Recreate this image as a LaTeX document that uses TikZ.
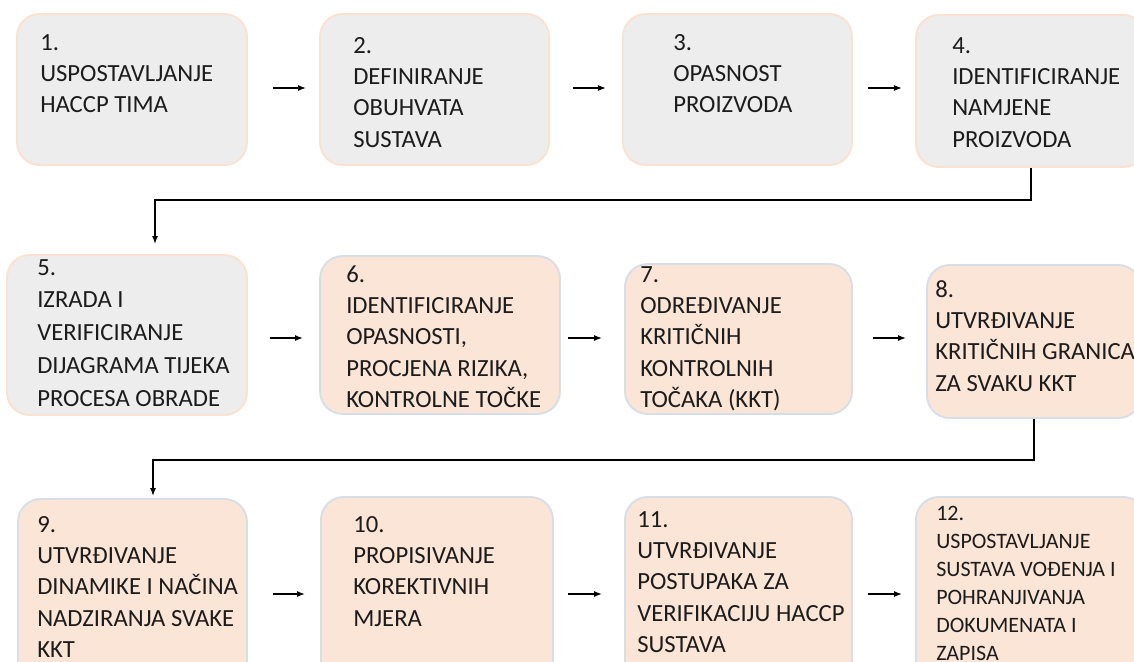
\documentclass[tikz,border=0pt]{standalone}
\usepackage{fontspec}
\setmainfont{Carlito}
\usetikzlibrary{arrows.meta}
\definecolor{graybox}{HTML}{EDEDED}
\definecolor{grayedge}{HTML}{FBE1CF}
\definecolor{peachbox}{HTML}{FBE5D6}
\definecolor{peachedge}{HTML}{D8DEE8}
\definecolor{txt}{HTML}{1C1C1C}
\newcommand\btext[2][23.6]{\parbox[t]{260pt}{\raggedright\fontsize{18.5}{#1}\selectfont #2}}
\begin{document}
\begin{tikzpicture}[x=0.75pt,y=-0.75pt,
  gbox/.style={draw=grayedge, fill=graybox, line width=1.4pt, rounded corners=17pt, inner sep=0pt},
  pbox/.style={draw=peachedge, fill=peachbox, line width=1.4pt, rounded corners=17pt, inner sep=0pt},
  lbl/.style={anchor=base west, inner sep=0pt, text=txt},
  arr/.style={line width=1.1pt, -{Latex[length=6pt,width=4.5pt]}},
  elbow/.style={line width=1.1pt, -{Latex[length=6pt,width=4.5pt]}}]
\clip (0,0) rectangle (1134,661);
\fill[white] (0,0) rectangle (1134,661);
% boxes
\node[gbox, minimum width=172.5pt, minimum height=113.25pt] (b1) at (132,89.5) {};
\node[gbox, minimum width=171.75pt, minimum height=113.25pt] (b2) at (434.5,89.5) {};
\node[gbox, minimum width=171.75pt, minimum height=113.25pt] (b3) at (737.5,89.5) {};
\node[gbox, minimum width=172.5pt, minimum height=114pt] (b4) at (1031,91) {};
\node[gbox, minimum width=180pt, minimum height=120pt] (b5) at (127,335) {};
\node[pbox, minimum width=180pt, minimum height=118.5pt] (b6) at (440,335) {};
\node[pbox, minimum width=170.25pt, minimum height=112.5pt] (b7) at (738.5,339) {};
\node[pbox, minimum width=160.5pt, minimum height=114.75pt] (b8) at (1034,341.5) {};
\node[pbox, minimum width=171.75pt, minimum height=150.75pt] (b9) at (132.5,599.5) {};
\node[pbox, minimum width=174pt, minimum height=152.25pt] (b10) at (437,598.5) {};
\node[pbox, minimum width=170.25pt, minimum height=152.25pt] (b11) at (738.5,598.5) {};
\node[pbox, minimum width=172.5pt, minimum height=152.25pt] (b12) at (1031,598.5) {};
% texts
\node[lbl] (t1) at (40,50) {\btext{1.\\USPOSTAVLJANJE\\HACCP TIMA}};
\node[lbl] (t2) at (353,53) {\btext{2.\\DEFINIRANJE\\OBUHVATA\\SUSTAVA}};
\node[lbl] (t3) at (673,50) {\btext{3.\\OPASNOST\\PROIZVODA}};
\node[lbl] (t4) at (952,53) {\btext{4.\\IDENTIFICIRANJE\\NAMJENE\\PROIZVODA}};
\node[lbl] (t5) at (37,275) {\btext[24.6]{5.\\IZRADA I\\VERIFICIRANJE\\DIJAGRAMA TIJEKA\\PROCESA OBRADE}};
\node[lbl] (t6) at (346,282) {\btext{6.\\IDENTIFICIRANJE\\OPASNOSTI,\\PROCJENA RIZIKA,\\KONTROLNE TOČKE}};
\node[lbl] (t7) at (640,282) {\btext{7.\\ODREĐIVANJE\\KRITIČNIH\\KONTROLNIH\\TOČAKA (KKT)}};
\node[lbl] (t8) at (935,297) {\btext{8.\\UTVRĐIVANJE\\KRITIČNIH GRANICA\\ZA SVAKU KKT}};
\node[lbl] (t9) at (37,532) {\btext{9.\\UTVRĐIVANJE\\DINAMIKE I NAČINA\\NADZIRANJA SVAKE\\KKT}};
\node[lbl] (t10) at (353,532) {\btext{10.\\PROPISIVANJE\\KOREKTIVNIH\\MJERA}};
\node[lbl] (t11) at (637,527) {\btext{11.\\UTVRĐIVANJE\\POSTUPAKA ZA\\VERIFIKACIJU HACCP\\SUSTAVA}};
\node[lbl] (t12) at (936,520) {\parbox[t]{260pt}{\raggedright\fontsize{16.5}{21}\selectfont 12.\\USPOSTAVLJANJE\\SUSTAVA VOĐENJA I\\POHRANJIVANJA\\DOKUMENATA I\\ZAPISA}};
% row reference coordinates
\coordinate (r1) at (0,88);
\coordinate (r2) at (0,338);
\coordinate (r3) at (0,594);
% horizontal arrows
\draw[arr, shorten <=18.75pt, shorten >=9.75pt] (b1.east |- r1) -- (b2.west |- r1);
\draw[arr, shorten <=17.25pt, shorten >=12pt] (b2.east |- r1) -- (b3.west |- r1);
\draw[arr, shorten <=11.25pt, shorten >=9.75pt] (b3.east |- r1) -- (b4.west |- r1);
\draw[arr, shorten <=16.5pt, shorten >=12pt] (b5.east |- r2) -- (b6.west |- r2);
\draw[arr, shorten <=5.25pt, shorten >=16.5pt] (b6.east |- r2) -- (b7.west |- r2);
\draw[arr, shorten <=15pt, shorten >=15pt] (b7.east |- r2) -- (b8.west |- r2);
\draw[arr, shorten <=18.75pt, shorten >=11.25pt] (b9.east |- r3) -- (b10.west |- r3);
\draw[arr, shorten <=10.5pt, shorten >=16.5pt] (b10.east |- r3) -- (b11.west |- r3);
\draw[arr, shorten <=11.25pt, shorten >=9.75pt] (b11.east |- r3) -- (b12.west |- r3);
% elbow connectors
\coordinate (k45) at (155,200);
\coordinate (a5) at (155,244);
\draw[elbow] (b4.south) |- (k45) -- (a5);
\coordinate (k89) at (153,460);
\coordinate (a9) at (153,496);
\draw[elbow] (b8.south) |- (k89) -- (a9);
\end{tikzpicture}
\end{document}
